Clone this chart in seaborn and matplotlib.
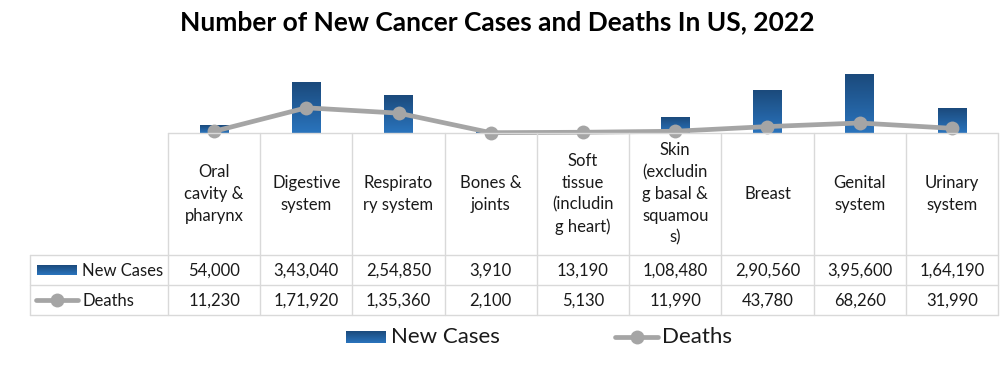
import numpy as np
import matplotlib
matplotlib.use("Agg")
import matplotlib.pyplot as plt
from matplotlib.colors import LinearSegmentedColormap
import seaborn as sns

categories = ["Oral\ncavity &\npharynx", "Digestive\nsystem", "Respirato\nry system",
              "Bones &\njoints", "Soft\ntissue\n(includin\ng heart)",
              "Skin\n(excludin\ng basal &\nsquamou\ns)", "Breast", "Genital\nsystem",
              "Urinary\nsystem"]
new_cases = [54000, 343040, 254850, 3910, 13190, 108480, 290560, 395600, 164190]
deaths = [11230, 171920, 135360, 2100, 5130, 11990, 43780, 68260, 31990]
new_cases_labels = ["54,000", "3,43,040", "2,54,850", "3,910", "13,190", "1,08,480",
                    "2,90,560", "3,95,600", "1,64,190"]
deaths_labels = ["11,230", "1,71,920", "1,35,360", "2,100", "5,130", "11,990",
                 "43,780", "68,260", "31,990"]
title = "Number of New Cancer Cases and Deaths In US, 2022"

sns.set_theme(style="white")
plt.rcParams['font.family'] = ['Lato', 'DejaVu Sans']

W, H = 1007, 365
fig = plt.figure(figsize=(W / 100, H / 100), dpi=100)

# pixel helpers
L, R = 168, 998
base_y, top_y = 133, 67
ax = fig.add_axes([L / W, (H - base_y) / H, (R - L) / W, (base_y - top_y) / H])
ax.patch.set_alpha(0)

sns.barplot(x=list(range(len(categories))), y=new_cases, ax=ax, width=0.31,
            color="#1f5f9e", saturation=1)
cmap = LinearSegmentedColormap.from_list("g", ["#2a74bd", "#1b4a7c"])
grad = np.linspace(0, 1, 100).reshape(-1, 1)
for p in list(ax.patches):
    x0, y0 = p.get_x(), p.get_y()
    w, h = p.get_width(), p.get_height()
    ax.imshow(grad, extent=[x0, x0 + w, y0, y0 + h], origin="lower", aspect="auto",
              cmap=cmap, zorder=2)
    p.set_visible(False)

gray = "#a5a5a5"
sns.lineplot(x=np.arange(len(deaths)), y=deaths, ax=ax, color=gray, linewidth=3.4,
             marker="o", markersize=10, markeredgewidth=0, zorder=3, clip_on=False)
ax.set_xlim(-0.5, len(categories) - 0.5)
ax.set_ylim(0, 450000)
ax.set_axis_off()

# table overlay in pixel coordinates
tax = fig.add_axes([0, 0, 1, 1])
tax.set_xlim(0, W)
tax.set_ylim(H, 0)
tax.set_axis_off()
tax.patch.set_alpha(0)
gc = "#d9d9d9"
n = len(categories)
colw = (R - L) / n
xs = [L + i * colw for i in range(n + 1)]
for x in xs:
    tax.plot([x, x], [base_y, 315], color=gc, lw=1)
tax.plot([30, 30], [255, 315], color=gc, lw=1)
tax.plot([L, R], [base_y, base_y], color=gc, lw=1)
for y in (255, 285, 315):
    tax.plot([30, R], [y, y], color=gc, lw=1)

fs = 12
for i in range(n):
    cx = (xs[i] + xs[i + 1]) / 2
    tax.text(cx, 194, categories[i], ha="center", va="center", fontsize=fs,
             linespacing=1.45, color="#1a1a1a")
    tax.text(cx, 270.5, new_cases_labels[i], ha="center", va="center", fontsize=fs,
             color="#1a1a1a")
    tax.text(cx, 300.5, deaths_labels[i], ha="center", va="center", fontsize=fs,
             color="#1a1a1a")

# row keys
tax.imshow(grad, extent=[37, 77, 275, 265], origin="lower", aspect="auto", cmap=cmap)
tax.text(82, 270.5, "New Cases", ha="left", va="center", fontsize=fs, color="#1a1a1a")
tax.plot([36, 78], [300, 300], color=gray, lw=3.4)
tax.plot([57], [300], "o", color=gray, ms=10, mew=0)
tax.text(82, 300.5, "Deaths", ha="left", va="center", fontsize=fs, color="#1a1a1a")

# bottom legend
tax.imshow(grad, extent=[346, 386, 343, 331], origin="lower", aspect="auto", cmap=cmap)
tax.text(391, 337, "New Cases", ha="left", va="center", fontsize=16, color="#1a1a1a")
tax.plot([615, 658], [337, 337], color=gray, lw=3.4)
tax.plot([637], [337], "o", color=gray, ms=10, mew=0)
tax.text(662, 337, "Deaths", ha="left", va="center", fontsize=16, color="#1a1a1a")
tax.set_xlim(0, W)
tax.set_ylim(H, 0)

fig.text(497 / W, 1 - 22 / H, title, ha="center", va="center", fontsize=19,
         fontweight="bold", color="#000000")

fig.savefig("out.png", dpi=100, facecolor="white")
